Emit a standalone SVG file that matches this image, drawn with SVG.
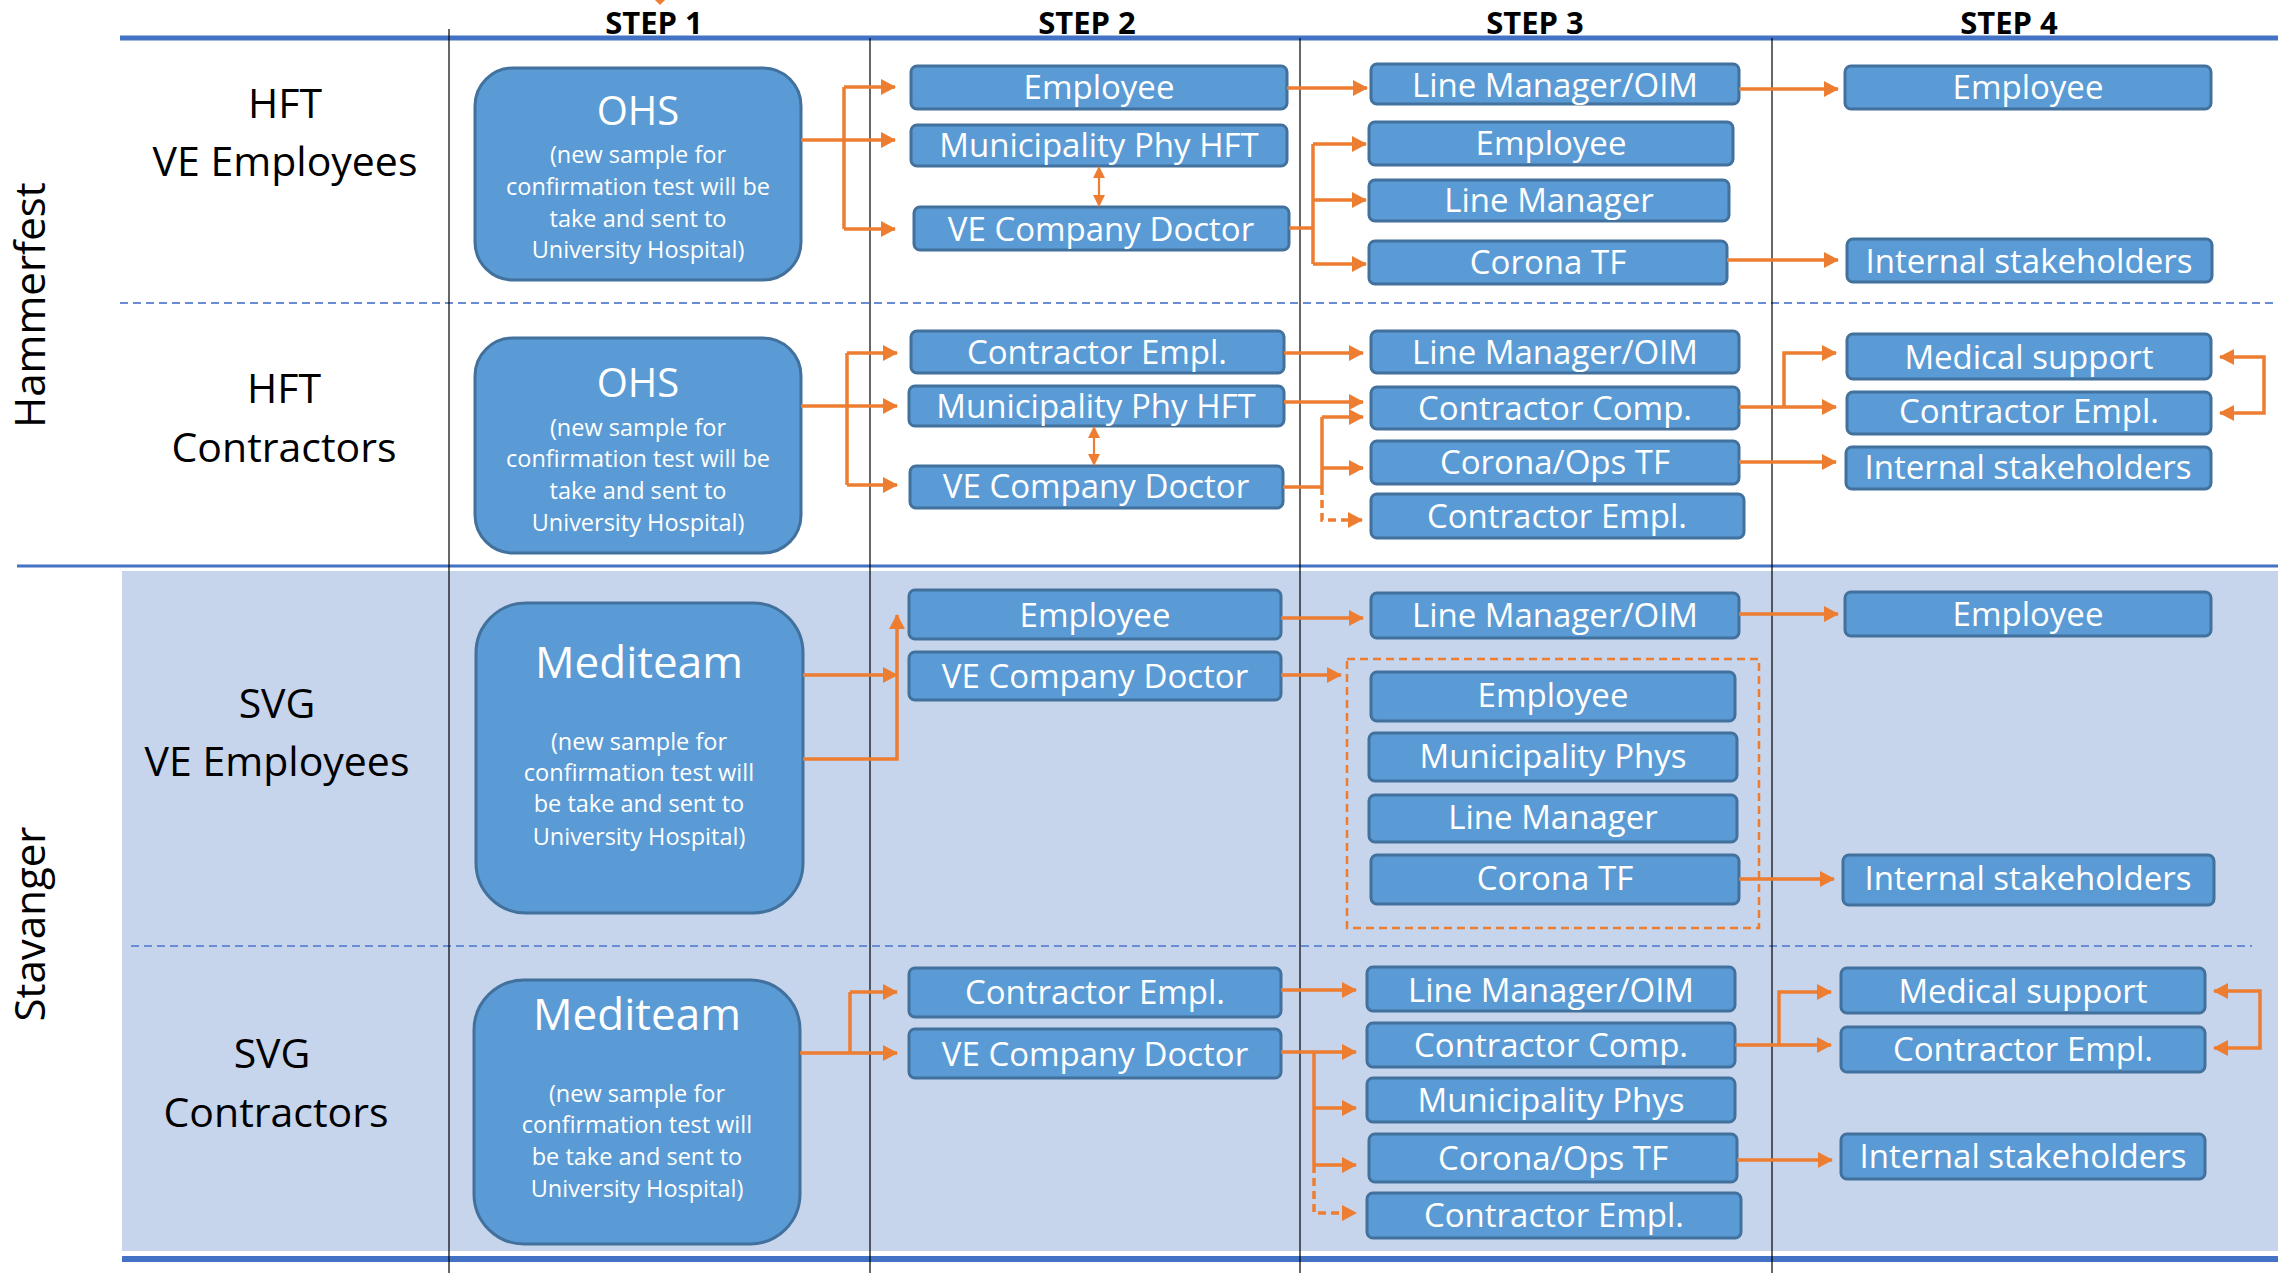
<svg xmlns="http://www.w3.org/2000/svg" width="2278" height="1273" viewBox="0 0 2278 1273">
<defs>
<style>
.bg{fill:#C6D4EC}
.vl{stroke:#000;stroke-width:1.2}
.hl{stroke:#4472C4;fill:none}
.dl{stroke:#6A8CD4;stroke-width:2;stroke-dasharray:8 5;fill:none}
.bx{fill:#5B9BD5;stroke:#41719C;stroke-width:3}
.big{fill:#5B9BD5;stroke:#41719C;stroke-width:3}
.t{font-family:'Open Sans','Liberation Sans',sans-serif;font-size:33px;fill:#fff;text-anchor:middle}
.tt{font-family:'Open Sans','Liberation Sans',sans-serif;font-size:40px;fill:#fff;text-anchor:middle}
.ts{font-family:'Open Sans','Liberation Sans',sans-serif;font-size:23.5px;fill:#fff;text-anchor:middle}
.lab{font-family:'Open Sans','Liberation Sans',sans-serif;font-size:41px;fill:#000;text-anchor:middle}
.side{font-family:'Open Sans','Liberation Sans',sans-serif;font-size:42px;fill:#000;text-anchor:middle}
.step{font-family:'Open Sans','Liberation Sans',sans-serif;font-size:31px;font-weight:bold;fill:#000;text-anchor:middle}
.c{stroke:#ED7D31;stroke-width:3.5;fill:none}
.a{marker-end:url(#ah)}
.d{stroke-dasharray:8 5}
.dbl{stroke:#ED7D31;stroke-width:2.2;fill:none;marker-start:url(#ah2);marker-end:url(#ah2)}
.br{marker-start:url(#ah);marker-end:url(#ah)}
</style>
<marker id="ah" viewBox="0 0 15 16" refX="14" refY="8" markerWidth="15" markerHeight="16" markerUnits="userSpaceOnUse" orient="auto-start-reverse"><path d="M0,0 L15,8 L0,16 Z" fill="#ED7D31"/></marker>
<marker id="ah2" viewBox="0 0 12 12" refX="11" refY="6" markerWidth="12" markerHeight="12" markerUnits="userSpaceOnUse" orient="auto-start-reverse"><path d="M0,0 L12,6 L0,12 Z" fill="#ED7D31"/></marker>
</defs>
<rect width="2278" height="1273" fill="#fff"/>
<g id="background">
<rect class="bg" x="122" y="571" width="2156" height="680"/>
<line class="hl" x1="120" y1="38" x2="2278" y2="38" stroke-width="5"/>
<line class="hl" x1="17" y1="566" x2="2278" y2="566" stroke-width="3"/>
<line class="hl" x1="122" y1="1259" x2="2278" y2="1259" stroke-width="6"/>
<line class="dl" x1="120" y1="303" x2="2278" y2="303"/>
<line class="dl" x1="131" y1="946" x2="2252" y2="946"/>
<line class="vl" x1="449" y1="29" x2="449" y2="1273"/>
<line class="vl" x1="870" y1="38" x2="870" y2="1273"/>
<line class="vl" x1="1300" y1="38" x2="1300" y2="1273"/>
<line class="vl" x1="1772" y1="38" x2="1772" y2="1273"/>
<path d="M655,0 L665,0 L660,5 Z" fill="#ED7D31"/>
</g>
<g id="headers">
<text class="step" x="654" y="34">STEP 1</text>
<text class="step" x="1087" y="34">STEP 2</text>
<text class="step" x="1535" y="34">STEP 3</text>
<text class="step" x="2009" y="34">STEP 4</text>
<text class="side" transform="translate(45,305) rotate(-90)">Hammerfest</text>
<text class="side" transform="translate(45,924) rotate(-90)">Stavanger</text>
</g>
<g id="row-labels">
<text class="lab" x="285" y="118">HFT</text>
<text class="lab" x="285" y="176">VE Employees</text>
<text class="lab" x="284" y="403">HFT</text>
<text class="lab" x="284" y="462">Contractors</text>
<text class="lab" x="277" y="718">SVG</text>
<text class="lab" x="277" y="776">VE Employees</text>
<text class="lab" x="272" y="1068">SVG</text>
<text class="lab" x="276" y="1127">Contractors</text>
</g>
<g id="ohs1"><rect class="big" x="475" y="68" width="326" height="212" rx="38"/>
<text class="tt" x="638" y="125">OHS</text>
<text class="ts" x="638" y="163">(new sample for</text><text class="ts" x="638" y="195">confirmation test will be</text><text class="ts" x="638" y="227">take and sent to</text><text class="ts" x="638" y="258">University Hospital)</text></g>
<g id="ohs2"><rect class="big" x="475" y="338" width="326" height="215" rx="38"/>
<text class="tt" x="638" y="397">OHS</text>
<text class="ts" x="638" y="436">(new sample for</text><text class="ts" x="638" y="467">confirmation test will be</text><text class="ts" x="638" y="499">take and sent to</text><text class="ts" x="638" y="531">University Hospital)</text></g>
<g id="mediteam1"><rect class="big" x="476" y="603" width="327" height="310" rx="50"/>
<text class="tt" x="639" y="678" style="font-size:44px">Mediteam</text>
<text class="ts" x="639" y="750">(new sample for</text><text class="ts" x="639" y="781">confirmation test will</text><text class="ts" x="639" y="812">be take and sent to</text><text class="ts" x="639" y="845">University Hospital)</text></g>
<g id="mediteam2"><rect class="big" x="474" y="980" width="326" height="264" rx="50"/>
<text class="tt" x="637" y="1030" style="font-size:44px">Mediteam</text>
<text class="ts" x="637" y="1102">(new sample for</text><text class="ts" x="637" y="1133">confirmation test will</text><text class="ts" x="637" y="1165">be take and sent to</text><text class="ts" x="637" y="1197">University Hospital)</text></g>

<g id="r1-employee"><rect class="bx" x="911" y="66" width="376" height="43" rx="6"/><text class="t" x="1099" y="99">Employee</text></g>
<g id="r1-muni"><rect class="bx" x="911" y="125" width="376" height="41" rx="6"/><text class="t" x="1099" y="157">Municipality Phy HFT</text></g>
<g id="r1-doctor"><rect class="bx" x="914" y="207" width="375" height="43" rx="6"/><text class="t" x="1101" y="241">VE Company Doctor</text></g>
<g id="r1-lmoim"><rect class="bx" x="1371" y="64" width="368" height="40" rx="6"/><text class="t" x="1555" y="97">Line Manager/OIM</text></g>
<g id="r1-employee3"><rect class="bx" x="1369" y="122" width="364" height="43" rx="6"/><text class="t" x="1551" y="155">Employee</text></g>
<g id="r1-lm"><rect class="bx" x="1369" y="180" width="360" height="41" rx="6"/><text class="t" x="1549" y="212">Line Manager</text></g>
<g id="r1-corona"><rect class="bx" x="1369" y="241" width="358" height="43" rx="6"/><text class="t" x="1548" y="274">Corona TF</text></g>
<g id="r1-employee4"><rect class="bx" x="1845" y="66" width="366" height="43" rx="6"/><text class="t" x="2028" y="99">Employee</text></g>
<g id="r1-internal"><rect class="bx" x="1847" y="239" width="365" height="43" rx="6"/><text class="t" x="2029" y="273">Internal stakeholders</text></g>

<g id="r2-contr"><rect class="bx" x="911" y="331" width="373" height="42" rx="6"/><text class="t" x="1097" y="364">Contractor Empl.</text></g>
<g id="r2-muni"><rect class="bx" x="909" y="386" width="375" height="40" rx="6"/><text class="t" x="1096" y="418">Municipality Phy HFT</text></g>
<g id="r2-doctor"><rect class="bx" x="910" y="466" width="373" height="42" rx="6"/><text class="t" x="1096" y="498">VE Company Doctor</text></g>
<g id="r2-lmoim"><rect class="bx" x="1371" y="331" width="368" height="42" rx="6"/><text class="t" x="1555" y="364">Line Manager/OIM</text></g>
<g id="r2-comp"><rect class="bx" x="1371" y="387" width="368" height="42" rx="6"/><text class="t" x="1555" y="420">Contractor Comp.</text></g>
<g id="r2-corona"><rect class="bx" x="1371" y="441" width="368" height="43" rx="6"/><text class="t" x="1555" y="474">Corona/Ops TF</text></g>
<g id="r2-contr3"><rect class="bx" x="1371" y="494" width="373" height="44" rx="6"/><text class="t" x="1557" y="528">Contractor Empl.</text></g>
<g id="r2-medical"><rect class="bx" x="1847" y="334" width="364" height="45" rx="6"/><text class="t" x="2029" y="369">Medical support</text></g>
<g id="r2-contr4"><rect class="bx" x="1847" y="392" width="364" height="42" rx="6"/><text class="t" x="2029" y="423">Contractor Empl.</text></g>
<g id="r2-internal"><rect class="bx" x="1846" y="447" width="365" height="42" rx="6"/><text class="t" x="2028" y="479">Internal stakeholders</text></g>

<g id="r3-employee"><rect class="bx" x="909" y="590" width="372" height="49" rx="6"/><text class="t" x="1095" y="627">Employee</text></g>
<g id="r3-doctor"><rect class="bx" x="909" y="652" width="372" height="48" rx="6"/><text class="t" x="1095" y="688">VE Company Doctor</text></g>
<g id="r3-lmoim"><rect class="bx" x="1371" y="593" width="368" height="45" rx="6"/><text class="t" x="1555" y="627">Line Manager/OIM</text></g>
<g id="r3-group"><rect x="1347" y="659" width="412" height="269" fill="none" stroke="#ED7D31" stroke-width="2.5" stroke-dasharray="8 5"/></g>
<g id="r3-employee3"><rect class="bx" x="1371" y="672" width="364" height="49" rx="6"/><text class="t" x="1553" y="707">Employee</text></g>
<g id="r3-muni"><rect class="bx" x="1369" y="733" width="368" height="48" rx="6"/><text class="t" x="1553" y="768">Municipality Phys</text></g>
<g id="r3-lm"><rect class="bx" x="1369" y="795" width="368" height="47" rx="6"/><text class="t" x="1553" y="829">Line Manager</text></g>
<g id="r3-corona"><rect class="bx" x="1371" y="855" width="368" height="49" rx="6"/><text class="t" x="1555" y="890">Corona TF</text></g>
<g id="r3-employee4"><rect class="bx" x="1845" y="592" width="366" height="44" rx="6"/><text class="t" x="2028" y="626">Employee</text></g>
<g id="r3-internal"><rect class="bx" x="1843" y="855" width="371" height="50" rx="6"/><text class="t" x="2028" y="890">Internal stakeholders</text></g>

<g id="r4-contr"><rect class="bx" x="909" y="968" width="372" height="49" rx="6"/><text class="t" x="1095" y="1004">Contractor Empl.</text></g>
<g id="r4-doctor"><rect class="bx" x="909" y="1029" width="372" height="49" rx="6"/><text class="t" x="1095" y="1066">VE Company Doctor</text></g>
<g id="r4-lmoim"><rect class="bx" x="1367" y="967" width="368" height="44" rx="6"/><text class="t" x="1551" y="1002">Line Manager/OIM</text></g>
<g id="r4-comp"><rect class="bx" x="1367" y="1023" width="368" height="44" rx="6"/><text class="t" x="1551" y="1057">Contractor Comp.</text></g>
<g id="r4-muni"><rect class="bx" x="1367" y="1078" width="368" height="44" rx="6"/><text class="t" x="1551" y="1112">Municipality Phys</text></g>
<g id="r4-corona"><rect class="bx" x="1369" y="1134" width="368" height="48" rx="6"/><text class="t" x="1553" y="1170">Corona/Ops TF</text></g>
<g id="r4-contr3"><rect class="bx" x="1367" y="1193" width="374" height="45" rx="6"/><text class="t" x="1554" y="1227">Contractor Empl.</text></g>
<g id="r4-medical"><rect class="bx" x="1841" y="968" width="364" height="45" rx="6"/><text class="t" x="2023" y="1003">Medical support</text></g>
<g id="r4-contr4"><rect class="bx" x="1841" y="1027" width="364" height="45" rx="6"/><text class="t" x="2023" y="1061">Contractor Empl.</text></g>
<g id="r4-internal"><rect class="bx" x="1841" y="1134" width="364" height="45" rx="6"/><text class="t" x="2023" y="1168">Internal stakeholders</text></g>

<g id="connectors">
<path class="c a" d="M801,140 H895"/>
<path class="c" d="M844,87 V229"/>
<path class="c a" d="M844,87 H895"/>
<path class="c a" d="M844,229 H895"/>
<path class="c a" d="M1287,88 H1367"/>
<path class="c a" d="M1739,89 H1838"/>
<path class="dbl" d="M1099,167 V206"/>
<path class="c" d="M1289,228 H1313 M1313,144 V264"/>
<path class="c a" d="M1313,144 H1366"/>
<path class="c a" d="M1313,200 H1366"/>
<path class="c a" d="M1313,264 H1366"/>
<path class="c a" d="M1727,260 H1838"/>

<path class="c a" d="M801,406 H897"/>
<path class="c" d="M847,353 V485"/>
<path class="c a" d="M847,353 H897"/>
<path class="c a" d="M847,485 H897"/>
<path class="c a" d="M1284,353 H1363"/>
<path class="c a" d="M1284,402 H1363"/>
<path class="dbl" d="M1094,427 V465"/>
<path class="c" d="M1283,487 H1322 M1322,417 V487"/>
<path class="c a" d="M1322,417 H1363"/>
<path class="c a" d="M1322,468 H1363"/>
<path class="c a d" d="M1322,487 V520 H1362"/>
<path class="c a" d="M1739,407 H1836"/>
<path class="c a" d="M1784,407 V353 H1836"/>
<path class="c a" d="M1739,462 H1836"/>
<path class="c br" d="M2220,357 H2264 V413 H2220"/>

<path class="c a" d="M803,675 H897"/>
<path class="c a" d="M803,759 H897 V615"/>
<path class="c a" d="M1281,618 H1363"/>
<path class="c a" d="M1739,614 H1838"/>
<path class="c a" d="M1281,675 H1341"/>
<path class="c a" d="M1739,879 H1834"/>

<path class="c a" d="M800,1053 H897"/>
<path class="c" d="M850,992 V1053"/>
<path class="c a" d="M850,992 H897"/>
<path class="c a" d="M1281,990 H1356"/>
<path class="c a" d="M1281,1052 H1356"/>
<path class="c" d="M1314,1052 V1165"/>
<path class="c a" d="M1314,1108 H1356"/>
<path class="c a" d="M1314,1165 H1356"/>
<path class="c a d" d="M1314,1165 V1213 H1356"/>
<path class="c a" d="M1735,1045 H1831"/>
<path class="c a" d="M1779,1045 V992 H1831"/>
<path class="c a" d="M1737,1160 H1832"/>
<path class="c br" d="M2214,991 H2260 V1048 H2214"/>
</g>
</svg>
